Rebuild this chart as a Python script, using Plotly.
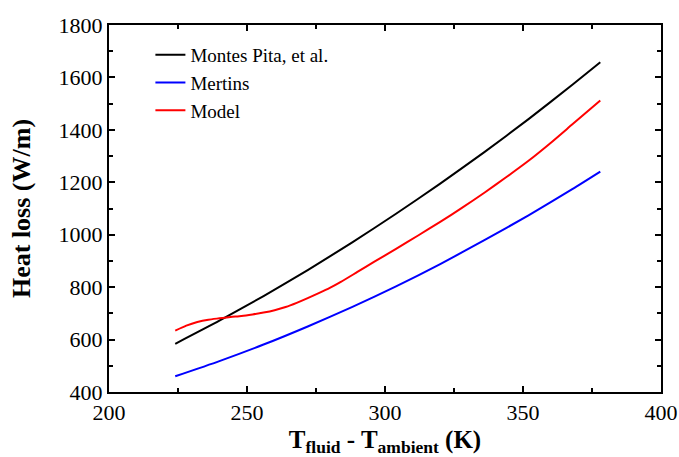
import plotly.graph_objects as go

# Montes Pita, et al.
x_montes = [224, 240, 256, 272, 288, 304, 320, 336, 352, 368, 378]
y_montes = [584, 672, 766, 865, 970, 1080, 1195, 1315, 1441, 1573, 1658]

# Mertins
x_mertins = [224, 240, 256, 272, 288, 304, 320, 336, 352, 368, 378]
y_mertins = [460, 518, 581, 650, 724, 803, 888, 979, 1074, 1175, 1241]

# Model
x_model = [224, 228, 232, 236, 240, 244, 248, 252, 256, 260, 264, 268, 272, 276, 280, 284,
           290, 296, 304, 312, 320, 328, 336, 344, 352, 360, 368, 378]
y_model = [634, 653, 667, 676, 681, 686, 690, 696, 703, 712, 724, 740, 758, 777, 797, 820,
           858, 896, 946, 997, 1049, 1103, 1160, 1220, 1282, 1350, 1422, 1512]

names = ["Montes Pita, et al.", "Mertins", "Model"]
colors = ["#000000", "#0000ff", "#ff0000"]

fig = go.Figure()
for xs, ys, n, c in zip([x_montes, x_mertins, x_model], [y_montes, y_mertins, y_model], names, colors):
    fig.add_trace(go.Scatter(x=xs, y=ys, mode="lines", name=n,
                             line=dict(color=c, width=2, shape="spline", smoothing=0.6)))

font_family = "Liberation Serif"
fig.update_layout(
    width=679, height=457,
    margin=dict(l=109, r=18, t=25, b=65),
    paper_bgcolor="white", plot_bgcolor="white",
    font=dict(family=font_family, color="black", size=22),
    showlegend=True,
    legend=dict(x=0.075, y=0.97, xanchor="left", yanchor="top",
                font=dict(size=19, family=font_family), bgcolor="rgba(0,0,0,0)",
                tracegroupgap=0),
)
fig.update_xaxes(
    range=[200, 400], tickvals=[200, 250, 300, 350, 400],
    ticks="inside", ticklen=6, tickwidth=1.5, tickcolor="black",
    minor=dict(tickvals=[225, 275, 325, 375], ticks="inside", ticklen=4, tickwidth=1.5, tickcolor="black"),
    showline=True, linewidth=2, linecolor="black", mirror="allticks",
    showgrid=False, zeroline=False, automargin=False,
    tickfont=dict(size=22, family=font_family),
    title=dict(text="<b>T<sub>fluid</sub> - T<sub>ambient</sub> (K)</b>",
               font=dict(size=25, family=font_family), standoff=8),
)
fig.update_yaxes(
    range=[400, 1800], tickvals=[400, 600, 800, 1000, 1200, 1400, 1600, 1800],
    ticks="inside", ticklen=6, tickwidth=1.5, tickcolor="black",
    minor=dict(tickvals=[500, 700, 900, 1100, 1300, 1500, 1700], ticks="inside", ticklen=4, tickwidth=1.5, tickcolor="black"),
    showline=True, linewidth=2, linecolor="black", mirror="allticks",
    showgrid=False, zeroline=False, automargin=False,
    tickfont=dict(size=22, family=font_family),
    title=dict(text="<b>Heat loss (W/m)</b>", font=dict(size=26, family=font_family), standoff=20),
)
fig.write_html("out.html")
